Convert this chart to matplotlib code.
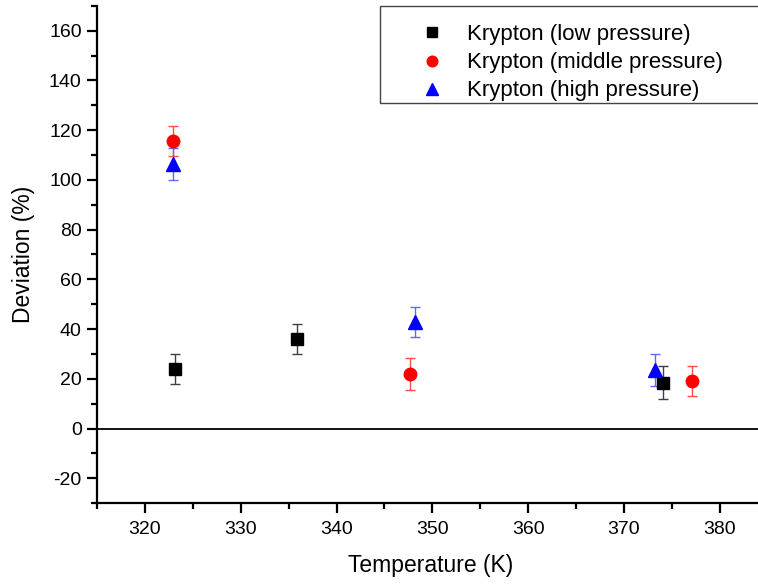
import matplotlib
matplotlib.use("Agg")
import matplotlib.pyplot as plt
from matplotlib.ticker import MultipleLocator
from matplotlib.patches import Rectangle

plt.rcParams["font.family"] = ["Liberation Sans", "DejaVu Sans"]
plt.rcParams["axes.unicode_minus"] = False

# Krypton deviation data
low_T = [323.1, 335.9, 374.1]
low_dev = [24.0, 36.0, 18.5]
low_err = [6.0, 6.0, 6.5]

mid_T = [322.9, 347.7, 377.1]
mid_dev = [115.5, 22.0, 19.0]
mid_err = [6.0, 6.5, 6.0]

high_T = [322.9, 348.2, 373.2]
high_dev = [106.5, 42.8, 23.5]
high_err = [6.5, 6.0, 6.5]

fig = plt.figure(figsize=(7.58, 5.85), dpi=100)
ax = fig.add_axes([0.128, 0.140, 0.872, 0.850])

# error bars first (lighter), markers on top
ax.errorbar(low_T, low_dev, yerr=low_err, fmt="none", ecolor=(0.25, 0.25, 0.25),
            elinewidth=1, capsize=3.5, capthick=1)
ax.errorbar(mid_T, mid_dev, yerr=mid_err, fmt="none", ecolor=(1, 0.3, 0.3),
            elinewidth=1, capsize=3.5, capthick=1)
ax.errorbar(high_T, high_dev, yerr=high_err, fmt="none", ecolor=(0.4, 0.4, 1),
            elinewidth=1, capsize=3.5, capthick=1)

ax.plot(low_T, low_dev, "s", color="black", ms=8, label="Krypton (low pressure)")
ax.plot(mid_T, mid_dev, "o", color="red", ms=9, label="Krypton (middle pressure)")
ax.plot(high_T, high_dev, "^", color="blue", ms=10, label="Krypton (high pressure)")

ax.axhline(0, color="black", lw=1.3)

ax.set_xlim(315, 384)
ax.xaxis.set_major_locator(MultipleLocator(10))
ax.xaxis.set_minor_locator(MultipleLocator(5))
ax.set_yticks(range(-20, 161, 20))
ax.yaxis.set_minor_locator(MultipleLocator(10))
ax.set_ylim(-30, 170)

ax.spines["top"].set_visible(False)
ax.spines["right"].set_visible(False)
ax.spines["left"].set_linewidth(1.6)
ax.spines["bottom"].set_linewidth(1.6)
ax.tick_params(which="major", direction="out", length=7, width=1.6, labelsize=14)
ax.tick_params(axis="x", which="major", pad=6)
ax.tick_params(axis="y", which="major", pad=4)
ax.tick_params(which="minor", direction="out", length=4, width=1.6)

ax.set_xlabel("Temperature (K)", fontsize=16.5)
ax.set_ylabel("Deviation (%)", fontsize=16.5)
ax.xaxis.set_label_coords(0.505, -0.103)
ax.yaxis.set_label_coords(-0.094, 0.5)

# legend box (frame drawn separately, it runs off the right edge)
ax.add_patch(Rectangle((0.428, 0.805), 0.6, 0.195, transform=ax.transAxes,
                       facecolor="white", edgecolor="#444444", lw=1.0,
                       clip_on=False, zorder=4))
leg = ax.legend(loc="upper left", bbox_to_anchor=(0.490, 0.963), fontsize=16,
                frameon=False, borderpad=0, borderaxespad=0,
                handlelength=1.0, handletextpad=1.08, labelspacing=0.32,
                markerscale=0.85)
leg.set_zorder(5)

fig.savefig("out.png", dpi=100)
